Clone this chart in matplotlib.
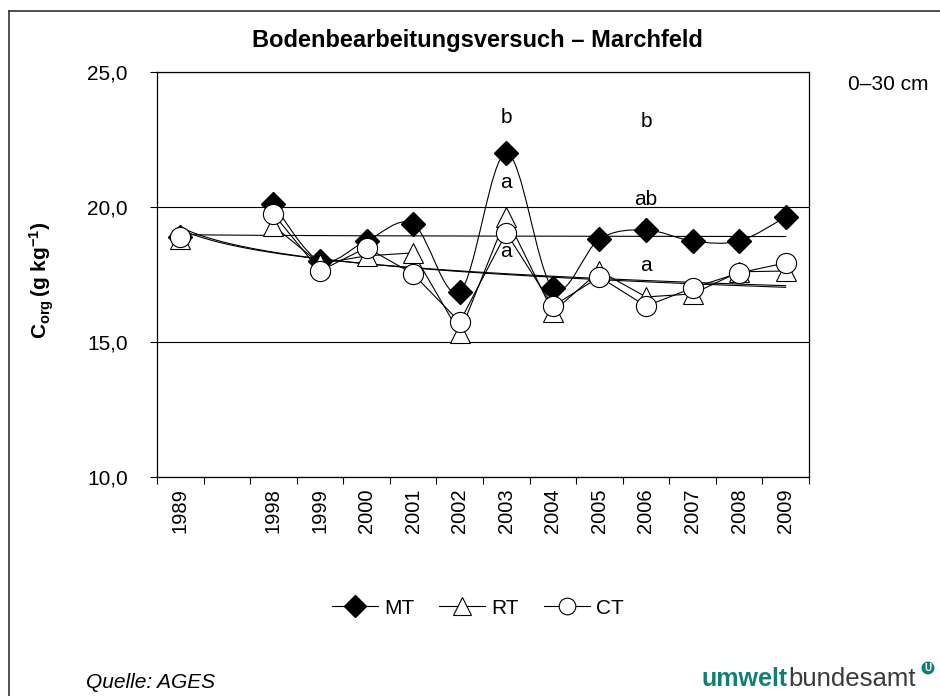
import numpy as np
import matplotlib
matplotlib.use("Agg")
import matplotlib.pyplot as plt
from matplotlib.path import Path
from matplotlib.patches import PathPatch
from matplotlib.lines import Line2D

plt.rcParams['font.family'] = ['Liberation Sans', 'DejaVu Sans']
plt.rcParams['mathtext.fontset'] = 'custom'
plt.rcParams['mathtext.rm'] = 'Liberation Sans'
plt.rcParams['mathtext.bf'] = 'Liberation Sans:bold'
plt.rcParams['mathtext.it'] = 'Liberation Sans:italic'

years = ['1989', '', '1998', '1999', '2000', '2001', '2002', '2003',
         '2004', '2005', '2006', '2007', '2008', '2009']

MT = np.array([18.9, np.nan, 20.1, 18.0, 18.75, 19.37, 16.86, 22.0,
               17.0, 18.81, 19.15, 18.74, 18.74, 19.63])
RT = np.array([18.8, np.nan, 19.3, 17.9, 18.19, 18.3, 15.33, 19.63,
               16.11, 17.63, 16.67, 16.78, 17.6, 17.63])
CT = np.array([18.89, np.nan, 19.74, 17.63, 18.5, 17.52, 15.74, 19.04,
               16.33, 17.41, 16.33, 17.0, 17.56, 17.93])

# Signifikanz-Buchstaben (2003 und 2006)
sig_x = [7, 7, 7, 10, 10, 10]
sig_y = [23.33, 20.89, 18.37, 23.15, 20.26, 17.85]
sig_txt = ['b', 'a', 'a', 'b', 'ab', 'a']

x = np.arange(len(years))


def smooth_path(xs, ys):
    # Excel-artige geglaettete Linie (Catmull-Rom als Bezier)
    pts = np.column_stack([xs, ys])
    verts = [pts[0]]
    codes = [Path.MOVETO]
    for i in range(len(pts) - 1):
        p0 = pts[max(i - 1, 0)]
        p1 = pts[i]
        p2 = pts[i + 1]
        p3 = pts[min(i + 2, len(pts) - 1)]
        c1 = p1 + (p2 - p0) / 6
        c2 = p2 - (p3 - p1) / 6
        verts += [c1, c2, p2]
        codes += [Path.CURVE4] * 3
    return Path(verts, codes)


def log_trend(y):
    xi = x + 1.0
    m = ~np.isnan(y)
    a, b = np.polyfit(np.log(xi[m]), y[m], 1)
    xx = np.linspace(1, len(years), 200)
    return xx - 1, a * np.log(xx) + b


fig = plt.figure(figsize=(9.4, 6.96), dpi=100)
ax = fig.add_axes([157/940, 1 - 477/696, 652/940, 405/696])

# Trendlinien
for s in [MT, RT, CT]:
    tx, ty = log_trend(s)
    ax.plot(tx, ty, color='k', lw=0.8, zorder=2)

# MT geglaettet
seg = ~np.isnan(MT)
seg[0] = False
ax.add_patch(PathPatch(smooth_path(x[seg], MT[seg]), facecolor='none',
                       edgecolor='k', lw=0.8, zorder=3))
ax.plot(x, MT, ls='none', marker='D', ms=12, color='k', zorder=3)
ax.plot(x, RT, color='k', lw=0.8, marker='^', ms=15, mfc='white',
        mec='k', mew=0.8, zorder=4)
ax.plot(x, CT, color='k', lw=0.8, marker='o', ms=14.5, mfc='white',
        mec='k', mew=0.8, zorder=5)

for xi, yi, t in zip(sig_x, sig_y, sig_txt):
    ax.text(xi, yi, t, ha='center', va='center', fontsize=15, zorder=6)

ax.set_xlim(-0.5, len(years) - 0.5)
ax.set_ylim(10, 25)
ax.set_yticks([10, 15, 20, 25])
ax.set_yticklabels(['10,0', '15,0', '20,0', '25,0'], fontsize=15)
ax.tick_params(axis='y', length=5, width=0.8, pad=16)
ax.set_xticks(x)
ax.set_xticklabels(years, rotation=90, fontsize=14.5)
ax.tick_params(axis='x', which='major', length=0, pad=8)
ax.set_xticks(np.arange(-0.5, len(years)), minor=True)
ax.tick_params(axis='x', which='minor', length=5, width=0.8)
ax.yaxis.grid(True, color='k', lw=0.8)
ax.set_axisbelow(True)
for sp in ax.spines.values():
    sp.set_linewidth(0.9)

fig.text(477/940, 1 - 40/696, 'Bodenbearbeitungsversuch – Marchfeld',
         ha='center', va='center', fontsize=17, fontweight='bold')
fig.text(848/940, 1 - 84/696, '0–30 cm', ha='left', va='center', fontsize=15)
fig.text(42/940, 1 - 280/696, r'$\mathbf{C_{org}\,(g\ kg^{-1})}$',
         rotation=90, ha='center', va='center', fontsize=15)

handles = [
    Line2D([], [], color='k', lw=0.8, marker='D', ms=11),
    Line2D([], [], color='k', lw=0.8, marker='^', ms=13, mfc='white', mew=0.8),
    Line2D([], [], color='k', lw=0.8, marker='o', ms=12, mfc='white', mew=0.8),
]
fig.legend(handles, ['MT', 'RT', 'CT'], loc='center', ncol=3,
           bbox_to_anchor=(478/940, 1 - 608/696), frameon=False,
           fontsize=15, handlelength=2.2, columnspacing=1.2, handletextpad=0.3)

fig.text(86/940, 1 - 682/696, 'Quelle: AGES', fontsize=15, style='italic',
         ha='left', va='center')
fig.text(788/940, 1 - 686/696, 'umwelt', fontsize=18, fontweight='bold',
         color='#127f77', ha='right', va='baseline')
fig.text(788/940, 1 - 686/696, 'bundesamt', fontsize=18.5, color='#3a3a3a',
         ha='left', va='baseline')
fig.text(928/940, 1 - 668/696, 'U', fontsize=7, fontweight='bold',
         color='white', ha='center', va='center',
         bbox=dict(boxstyle='circle,pad=0.15', fc='#127f77', ec='none'))

# Rahmen
fig.add_artist(Line2D([9/940, 9/940], [0, 1 - 11/696], color='#333333',
                      lw=1.2, transform=fig.transFigure))
fig.add_artist(Line2D([9/940, 1], [1 - 11/696, 1 - 11/696], color='#333333',
                      lw=1.2, transform=fig.transFigure))

fig.savefig('out.png', dpi=100)
